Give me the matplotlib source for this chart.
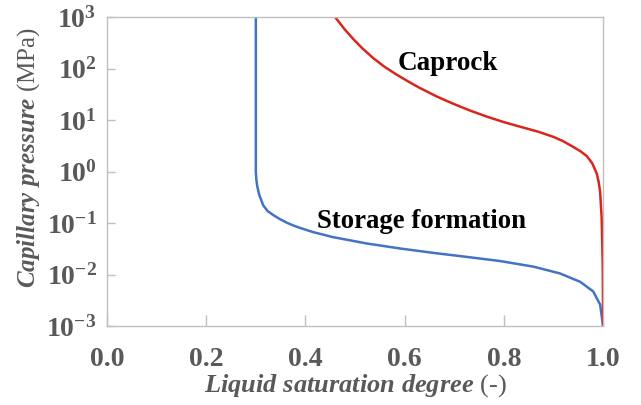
import matplotlib
matplotlib.use("Agg")
import matplotlib.pyplot as plt
from matplotlib.ticker import FixedLocator, NullLocator

plt.rcParams['font.family'] = ['Liberation Serif', 'DejaVu Serif']
plt.rcParams['font.weight'] = 'bold'
plt.rcParams['mathtext.fontset'] = 'custom'
plt.rcParams['mathtext.rm'] = 'Liberation Serif:bold'
plt.rcParams['mathtext.bf'] = 'Liberation Serif:bold'
plt.rcParams['mathtext.it'] = 'Liberation Serif:bold:italic'
plt.rcParams['mathtext.default'] = 'rm'

# Storage formation curve (liquid saturation, capillary pressure in MPa)
storage_s = [0.300, 0.300, 0.300, 0.300, 0.301, 0.303, 0.307, 0.315, 0.324, 0.335,
             0.348, 0.362, 0.375, 0.389, 0.416, 0.456, 0.524, 0.591, 0.658, 0.725,
             0.792, 0.860, 0.913, 0.954, 0.980, 0.994, 0.9993, 1.000]
storage_p = [1000, 100, 10, 1.0, 0.70, 0.51, 0.35, 0.22, 0.17, 0.143,
             0.120, 0.102, 0.090, 0.0804, 0.0664, 0.0531, 0.040, 0.032, 0.0263, 0.022,
             0.0183, 0.0142, 0.0105, 0.0072, 0.0047, 0.0026, 0.0011, 0.001]

# Caprock curve
caprock_s = [0.4597, 0.480, 0.4966, 0.515, 0.537, 0.560, 0.584, 0.610, 0.631, 0.665,
             0.698, 0.730, 0.766, 0.800, 0.833, 0.870, 0.900, 0.920, 0.940, 0.955,
             0.967, 0.978, 0.987, 0.991, 0.994, 0.997, 0.9993, 1.000]
caprock_p = [1000, 562, 372, 245, 158, 107, 76, 54, 41.7, 28.5,
             20.7, 15.5, 11.6, 9.1, 7.4, 5.9, 4.7, 3.85, 3.0, 2.45,
             2.0, 1.45, 0.92, 0.63, 0.40, 0.13, 0.014, 0.001]

xticks = [0.0, 0.2, 0.4, 0.6, 0.8, 1.0]
xticklabels = ['0.0', '0.2', '0.4', '0.6', '0.8', '1.0']
yticks = [1e-3, 1e-2, 1e-1, 1e0, 1e1, 1e2, 1e3]
yticklabels = [r'$10^{-3}$', r'$10^{-2}$', r'$10^{-1}$', r'$10^{0}$',
               r'$10^{1}$', r'$10^{2}$', r'$10^{3}$']

gray = '#595959'
spine_gray = '#BFBFBF'

fig = plt.figure(figsize=(6.41, 4.05), dpi=100)
ax = fig.add_axes([0.1669, 0.195, 0.774, 0.763])

ax.plot(storage_s, storage_p, color='#4472C4', lw=1.8, solid_capstyle='butt',
        solid_joinstyle='round')
ax.plot(caprock_s, caprock_p, color='#D9261C', lw=1.8, solid_capstyle='butt',
        solid_joinstyle='round')

ax.set_yscale('log')
ax.set_xlim(0, 1.0)
ax.set_ylim(1e-3, 1e3)
ax.xaxis.set_major_locator(FixedLocator(xticks))
ax.set_xticklabels(xticklabels)
ax.yaxis.set_major_locator(FixedLocator(yticks))
ax.yaxis.set_minor_locator(NullLocator())
ax.set_yticklabels(yticklabels)

for sp in ax.spines.values():
    sp.set_color(spine_gray)
    sp.set_linewidth(1.0)

ax.tick_params(axis='x', direction='in', length=8, width=1, color=spine_gray,
               labelsize=20, labelcolor=gray, pad=15)
ax.tick_params(axis='y', direction='in', length=6, width=1, color=spine_gray,
               labelsize=20, labelcolor=gray, pad=7.5)

ax.set_xlabel(r'$\mathit{Liquid\ saturation\ degree}$ (-)', fontsize=19, color=gray)
ax.set_ylabel(r'$\mathit{Capillary\ pressure}$ (MPa)', fontsize=18, color=gray)
ax.xaxis.set_label_coords(0.5, -0.149)
ax.yaxis.set_label_coords(-0.13, 0.544)

ax.text(0.585, 10**2.09, 'Caprock', fontsize=19.5, fontweight='bold',
        color='black', va='center', ha='left')
ax.text(0.423, 10**-0.975, 'Storage formation', fontsize=19.3, fontweight='bold',
        color='black', va='center', ha='left')

fig.savefig('out.png', dpi=100)
